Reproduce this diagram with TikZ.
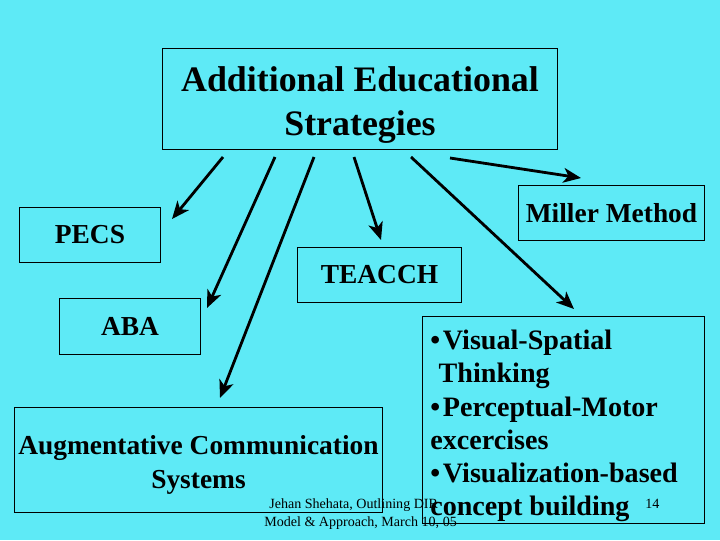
\documentclass[tikz,border=0pt]{standalone}
\usepackage{fontspec}
\setmainfont{Liberation Serif}
\usetikzlibrary{arrows.meta}
\definecolor{slidebg}{RGB}{94,234,246}
\begin{document}
\begin{tikzpicture}[x=0.025cm,y=-0.025cm,
    box/.style={draw,line width=0.6pt,inner sep=0pt,align=center,
      font=\bfseries\fontsize{19.5}{24.5}\selectfont},
    txt/.style={inner sep=0pt,font=\bfseries\fontsize{19.5}{24.5}\selectfont},
    arr/.style={line width=2pt,-{Stealth[length=12.5pt,width=10.5pt,inset=3.5pt]}},
    foot/.style={inner sep=0pt,anchor=base west,font=\fontsize{10}{12}\selectfont}]
            \fill[slidebg] (0,0) rectangle (720,540);
            \useasboundingbox (0,0) rectangle (720,540);
            \node[box,minimum width=280.6pt,minimum height=72.3pt] (title) at (360,99) {};
            \node[txt,align=center,font=\bfseries\fontsize{25.5}{31}\selectfont] (titletext) at (360,105)
              {Additional Educational\\Strategies};
            \node[box,minimum width=100.6pt,minimum height=39pt] (pecs) at (90,234.5) {PECS};
            \node[box,minimum width=132.5pt,minimum height=39.7pt] (miller) at (611.5,213) {Miller Method};
            \node[box,minimum width=116.9pt,minimum height=39.7pt] (teacch) at (379.5,275) {TEACCH};
            \node[box,minimum width=100.6pt,minimum height=40.4pt] (aba) at (130,326.5) {ABA};
            \node[box,minimum width=261.5pt,minimum height=75.1pt] (aug) at (198.5,460) {};
            \node[txt,align=center] (augtext) at (198.5,465)
              {Augmentative Communication\\Systems};
            \node[foot] (foot1) at (269,508) {Jehan Shehata, Outlining DIR};
            \node[foot] (foot2) at (264,526) {Model \& Approach, March 10, 05};
            \node[foot] (page) at (645,508) {14};
            \node[box,minimum width=200.6pt,minimum height=147.4pt] (vs) at (563.5,420) {};
            \node[txt,align=left,anchor=west,font=\bfseries\fontsize{20}{23.7}\selectfont] (vstext) at (430,426)
              {•\hspace{2pt}Visual-Spatial\\\hspace*{6pt}Thinking\\•\hspace{2pt}Perceptual-Motor\\
               excercises\\•\hspace{2pt}Visualization-based\\concept building};
            % arrows out of the title box
            \coordinate (s1) at (223,157);
            \coordinate (s2) at (275,157);
            \coordinate (s3) at (314,157);
            \coordinate (s4) at (354,157);
            \coordinate (s5) at (411,157);
            \coordinate (s6) at (450,158);
            \coordinate (e1) at (172,219);
            \coordinate (e2) at (207,308);
            \coordinate (e3) at (220,398);
            \coordinate (e4) at (381,240);
            \coordinate (e5) at (574,309);
            \coordinate (e6) at (581,178);
            \draw[arr] (s1) -- (e1);
            \draw[arr] (s2) -- (e2);
            \draw[arr] (s3) -- (e3);
            \draw[arr] (s4) -- (e4);
            \draw[arr] (s5) -- (e5);
            \draw[arr] (s6) -- (e6);
        \end{tikzpicture}
\end{document}
